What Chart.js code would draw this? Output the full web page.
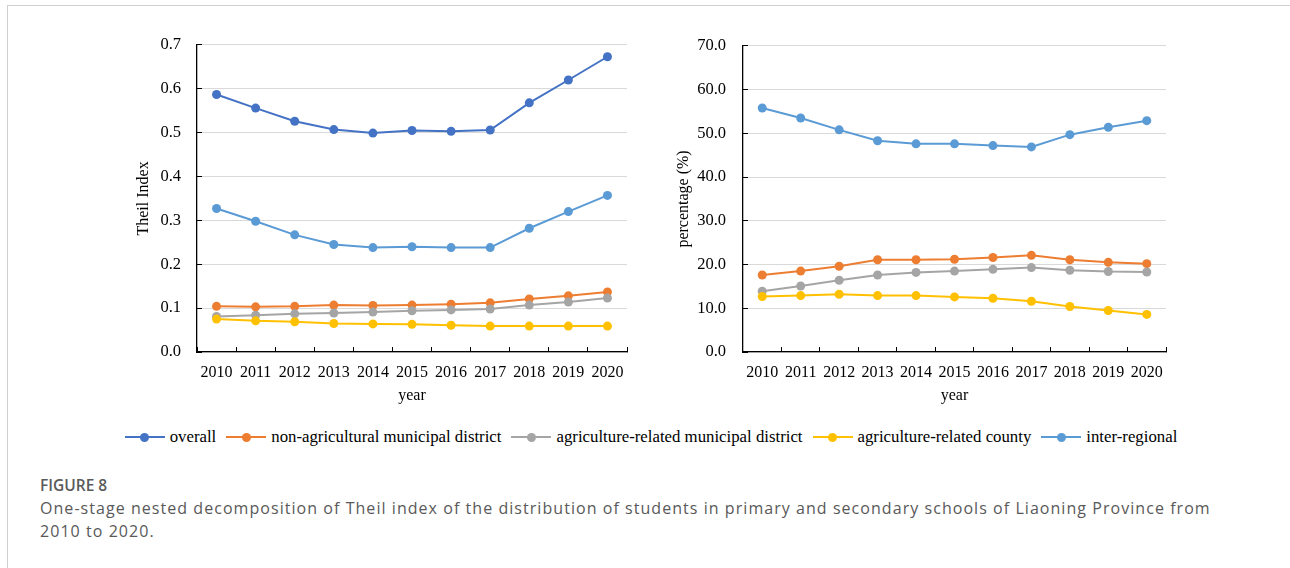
<!DOCTYPE html>
<html>
<head>
<meta charset="utf-8">
<script src="https://cdn.jsdelivr.net/npm/chart.js@4.4.1/dist/chart.umd.min.js"></script>
<style>
body{margin:0;background:#fff;width:1290px;height:568px;overflow:hidden;position:relative;font-family:"Liberation Serif",serif}
#frame{position:absolute;left:7px;top:5px;width:1400px;height:700px;border:1px solid #d0d0d0}
#leftChart{position:absolute;left:120px;top:14px}
#rightChart{position:absolute;left:660px;top:14px}
#legend{position:absolute;left:0;top:426px;width:1302px;display:flex;justify-content:center;font-size:16.8px;color:#000;line-height:22px}
.item{display:flex;align-items:center;margin:0 5px}
.mk{position:relative;width:40px;height:22px;margin-right:5px}
.mk:before{content:"";position:absolute;left:0;right:0;top:10px;height:2px;background:var(--c)}
.mk:after{content:"";position:absolute;left:15.5px;top:6.5px;width:9px;height:9px;border-radius:50%;background:var(--c)}
#fig{position:absolute;left:40px;top:474px;font-family:"Open Sans",sans-serif;font-weight:600;font-size:15.5px;color:#5a5a5a}
#cap{position:absolute;left:40px;top:497px;width:1190px;font-family:"Open Sans",sans-serif;font-size:16px;letter-spacing:1.05px;line-height:23px;color:#595959}
</style>
</head>
<body>
<div id="frame"></div>
<canvas id="leftChart" width="520" height="406"></canvas>
<canvas id="rightChart" width="520" height="406"></canvas>
<div id="legend"></div>
<div id="fig">FIGURE 8</div>
<div id="cap">One-stage nested decomposition of Theil index of the distribution of students in primary and secondary schools of Liaoning Province from 2010 to 2020.</div>
<script>

let years = ["2010","2011","2012","2013","2014","2015","2016","2017","2018","2019","2020"]

let seriesNames = ["overall","non-agricultural municipal district","agriculture-related municipal district","agriculture-related county","inter-regional"]
let seriesColors = ["#4472C4","#ED7D31","#A5A5A5","#FFC000","#5B9BD5"]

// left panel: Theil index
let theilOverall = [0.587,0.556,0.526,0.507,0.499,0.505,0.503,0.506,0.568,0.620,0.673]
let theilNonAgri = [0.104,0.103,0.104,0.107,0.106,0.107,0.109,0.112,0.121,0.128,0.137]
let theilAgriDistrict = [0.081,0.084,0.087,0.089,0.091,0.094,0.096,0.098,0.107,0.114,0.123]
let theilAgriCounty = [0.075,0.071,0.069,0.065,0.064,0.063,0.061,0.059,0.059,0.059,0.059]
let theilInter = [0.327,0.298,0.267,0.245,0.238,0.240,0.238,0.238,0.282,0.320,0.357]

// right panel: percentage (%)
let pctNonAgri = [17.6,18.5,19.6,21.1,21.1,21.2,21.6,22.1,21.1,20.5,20.2]
let pctAgriDistrict = [13.9,15.1,16.4,17.6,18.2,18.5,18.9,19.3,18.7,18.4,18.3]
let pctAgriCounty = [12.7,12.9,13.2,12.9,12.9,12.6,12.3,11.6,10.4,9.5,8.6]
let pctInter = [55.8,53.5,50.8,48.3,47.6,47.6,47.2,46.9,49.7,51.4,52.9]

let serif = "'Liberation Serif', 'Times New Roman', serif"


function makeSet(idx,data){

return {
label:seriesNames[idx],
data:data,
borderColor:seriesColors[idx],
backgroundColor:seriesColors[idx],
borderWidth:2,
pointRadius:4.5,
pointHoverRadius:4.5,
pointBorderWidth:0,
fill:false,
tension:0,
order:10-idx
}

}


function makeChart(id,sets,maxY,yTitle,yWidth,padRight,labelPad){

return new Chart(document.getElementById(id),{

type:"line",

data:{labels:years,datasets:sets},

options:{
responsive:false,
animation:false,
layout:{padding:{left:0,right:padRight,top:0,bottom:0}},
plugins:{legend:{display:false},tooltip:{enabled:false}},
scales:{
x:{
offset:true,
grid:{display:true,drawOnChartArea:false,drawTicks:true,offset:true,tickLength:-5,color:"#000",tickColor:"#000"},
border:{display:true,color:"#000",width:1.3},
ticks:{color:"#000",font:{family:serif,size:16},padding:16,maxRotation:0,autoSkip:false},
title:{display:true,text:"year",color:"#000",font:{family:serif,size:16},padding:{top:15,bottom:15}},
afterFit:(s)=>{s.height=68}
},
y:{
min:0,
max:maxY,
grid:{color:"#d9d9d9",lineWidth:1,tickLength:-5,tickColor:"#000"},
border:{display:true,color:"#000",width:1.3},
ticks:{stepSize:maxY/7,color:"#000",font:{family:serif,size:16.5},padding:labelPad,callback:(v)=>v.toFixed(1)},
title:{display:true,text:yTitle,color:"#000",font:{family:serif,size:16},padding:{top:14,bottom:14}},
afterFit:(s)=>{s.width=yWidth}
}
}
}

})

}


makeChart("leftChart",[
makeSet(0,theilOverall),
makeSet(1,theilNonAgri),
makeSet(2,theilAgriDistrict),
makeSet(3,theilAgriCounty),
makeSet(4,theilInter)
],0.7,"Theil Index",77,12,21)

makeChart("rightChart",[
makeSet(1,pctNonAgri),
makeSet(2,pctAgriDistrict),
makeSet(3,pctAgriCounty),
makeSet(4,pctInter)
],70,"percentage (%)",83,14,22)


let legend = document.getElementById("legend")

seriesNames.forEach((name,i)=>{

let item = document.createElement("div")
item.className = "item"
item.innerHTML = '<span class="mk" style="--c:' + seriesColors[i] + '"></span><span>' + name + '</span>'
legend.appendChild(item)

})

</script>
</body>
</html>
